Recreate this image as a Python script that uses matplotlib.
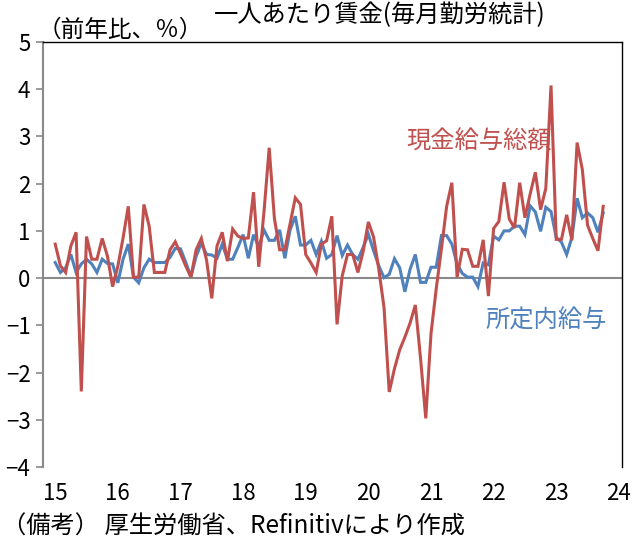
import numpy as np
import matplotlib
matplotlib.use("Agg")
import matplotlib.pyplot as plt

plt.rcParams['font.family'] = ['Noto Sans CJK JP', 'DejaVu Sans']

# ---------------------------------------------------------------------------
# data: monthly y/y %, Jan 2015 - Oct 2023
# ---------------------------------------------------------------------------
total_pay = [
    0.72, 0.26, 0.12, 0.68, 0.97, -2.40, 0.88, 0.40, 0.40, 0.84, 0.47, -0.18,
    0.25, 0.85, 1.52, 0.02, 0.02, 1.56, 1.10, 0.12, 0.12, 0.12, 0.60, 0.77,
    0.52, 0.26, 0.02, 0.60, 0.84, 0.38, -0.43, 0.68, 0.97, 0.36, 1.04, 0.89,
    0.84, 0.85, 1.82, 0.24, 1.40, 2.76, 1.26, 0.60, 0.60, 1.15, 1.70, 1.56,
    0.50, 0.32, 0.12, 0.72, 0.79, 1.31, -0.98, 0.05, 0.50, 0.50, 0.12, 0.56,
    1.19, 0.87, 0.19, -0.62, -2.41, -1.92, -1.52, -1.25, -0.95, -0.57, -1.70, -2.97,
    -1.18, -0.23, 0.62, 1.52, 2.02, 0.02, 0.61, 0.60, 0.25, 0.25, 0.81, -0.38,
    1.05, 1.20, 2.03, 1.25, 1.06, 2.02, 1.28, 1.78, 2.24, 1.45, 1.90, 4.08,
    0.82, 0.82, 1.34, 0.80, 2.87, 2.30, 1.12, 0.84, 0.58, 1.52,
]
scheduled_pay = [
    0.33, 0.12, 0.22, 0.50, 0.12, 0.30, 0.40, 0.30, 0.12, 0.40, 0.31, 0.30,
    -0.10, 0.40, 0.72, 0.02, -0.10, 0.22, 0.40, 0.33, 0.33, 0.33, 0.44, 0.63,
    0.62, 0.34, 0.03, 0.46, 0.74, 0.50, 0.49, 0.42, 0.72, 0.40, 0.40, 0.65,
    0.92, 0.42, 0.92, 0.66, 1.02, 0.80, 0.80, 1.02, 0.42, 1.02, 1.31, 0.70,
    0.70, 0.80, 0.50, 0.78, 0.42, 0.50, 0.90, 0.48, 0.70, 0.50, 0.40, 0.65,
    0.93, 0.58, 0.26, 0.01, 0.08, 0.41, 0.22, -0.29, 0.19, 0.50, -0.09, -0.09,
    0.23, 0.23, 0.90, 0.90, 0.72, 0.30, 0.10, 0.02, 0.02, -0.18, 0.32, 0.28,
    0.89, 0.81, 1.00, 1.00, 1.10, 1.10, 0.92, 1.53, 1.40, 0.99, 1.50, 1.41,
    0.86, 0.76, 0.50, 0.86, 1.69, 1.28, 1.38, 1.28, 0.97, 1.38,
]
year_labels = ['15', '16', '17', '18', '19', '20', '21', '22', '23', '24']
y_ticks = [-4, -3, -2, -1, 0, 1, 2, 3, 4, 5]

RED = '#C0504D'
BLUE = '#4F81BD'
GRAY = '#898989'

months = np.arange(len(total_pay))

fig = plt.figure(figsize=(6.38, 5.46), dpi=100)
ax = fig.add_axes([43 / 638, 1 - 467 / 546, (622 - 43) / 638, (467 - 42) / 546])

ax.plot(months, scheduled_pay, color=BLUE, lw=2.2, solid_joinstyle='miter')
ax.plot(months, total_pay, color=RED, lw=2.2, solid_joinstyle='miter')
ax.axhline(0, color=GRAY, lw=1.5, zorder=0)

ax.set_xlim(-2.34, 108.6)
ax.set_ylim(-4, 5)

# axes styling
ax.spines['left'].set_color(GRAY)
ax.spines['left'].set_linewidth(1.5)
ax.spines['bottom'].set_visible(False)
ax.spines['top'].set_color('black')
ax.spines['top'].set_linewidth(1.0)
ax.spines['right'].set_color('black')
ax.spines['right'].set_linewidth(1.0)

ax.set_yticks(y_ticks)
ax.set_yticklabels([str(v).replace('-', '−') for v in y_ticks], fontsize=16)
ax.tick_params(axis='y', direction='out', length=5, width=1.2, color=GRAY, pad=4)

ax.set_xticks(np.arange(len(year_labels)) * 12)
ax.set_xticklabels(year_labels, fontsize=16)
ax.tick_params(axis='x', length=0, pad=11)

# series labels
ax.text(0.628, 0.765, '現金給与総額', transform=ax.transAxes, color=RED, fontsize=17.5,
        ha='left', va='center')
ax.text(0.765, 0.345, '所定内給与', transform=ax.transAxes, color=BLUE, fontsize=17.5,
        ha='left', va='center')

# titles / notes
fig.text(380 / 638, 1 - 15 / 546, '一人あたり賃金(毎月勤労統計)', fontsize=17.5,
         ha='center', va='center')
fig.text(38 / 638, 1 - 30 / 546, '（前年比、％）', fontsize=17, ha='left', va='center')
fig.text(2 / 638, 1 - 527 / 546, '（備考） 厚生労働省、Refinitivにより作成', fontsize=17.5,
         ha='left', va='center')

fig.savefig('out.png', dpi=100)
